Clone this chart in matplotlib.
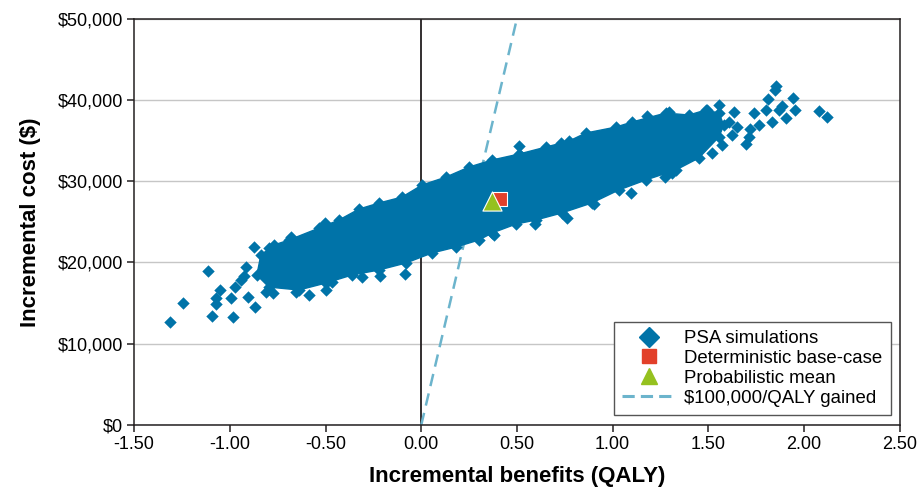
#scatter of PSA simulations on the cost-effectiveness plane

import matplotlib
matplotlib.use("Agg")
import matplotlib.pyplot as plt
from matplotlib.lines import Line2D
from matplotlib.ticker import FuncFormatter

plt.rcParams['font.family'] = ['Liberation Sans', 'DejaVu Sans']

# outline of the dense body of simulations
cloud_edge_x = [-0.838, -0.770, -0.691, -0.534, -0.430, -0.325, -0.221, -0.101, 0.004, 0.129,
                0.249, 0.370, 0.510, 0.651, 0.772, 0.860, 1.017, 1.101, 1.278, 1.398,
                1.487, 1.555, 1.581, 1.555, 1.450, 1.330, 1.173, 1.032, 0.891, 0.734,
                0.599, 0.495, 0.370, 0.301, 0.181, 0.056, -0.080, -0.221, -0.362, -0.498,
                -0.639, -0.796, -0.859]
cloud_edge_y = [20910, 22140, 22760, 24230, 25220, 26570, 27310, 28040, 29520, 30500,
                31730, 32600, 33330, 34190, 34930, 35920, 36650, 37270, 38380, 38130,
                38750, 38380, 36900, 35420, 32840, 31370, 30140, 28910, 27310, 26080,
                25220, 24720, 23620, 22760, 21890, 21160, 19930, 19070, 18450, 17470,
                16610, 16970, 18450]

# scattered simulations outside the dense body
psa_x = [-1.314, -1.246, -1.116, -1.095, -0.985, -1.073, -1.073, -1.052, -0.994, -0.916,
         -0.874, -0.869, -0.905, -0.926, -0.973, -0.942, -0.811, -0.775, -0.655, -0.587,
         -0.498, -0.310, -0.216, -0.085, -0.467, -0.362, -0.796, -0.681, -0.623, -0.503,
         1.853, 1.848, 1.942, 2.078, 2.120, 1.952, 1.811, 1.905, 1.885, 1.869,
         1.832, 1.801, 1.764, 1.738, 1.717, 1.696, 1.712, 1.633, 1.649, 1.623,
         1.571, 1.555, 1.608, 1.493, 1.179, 1.294, 0.510, 0.730, 1.096, 0.903,
         0.762, 0.594, 0.380, 1.310, 1.519, 1.273, 0.526]
psa_y = [12670, 15010, 18940, 13410, 13280, 15620, 14880, 16610, 15620, 19430,
         21890, 14510, 15740, 18330, 16970, 17840, 16360, 16240, 16360, 15990,
         16610, 18200, 18330, 18570, 17590, 18700, 21770, 23120, 22760, 24850,
         41700, 41200, 40220, 38620, 37880, 38740, 40100, 37760, 39240, 38740,
         37270, 38740, 36900, 38380, 36410, 34560, 35420, 38500, 36650, 35670,
         34440, 39360, 37270, 38740, 38010, 38500, 34320, 34690, 28540, 27180,
         25460, 24720, 23370, 31000, 33460, 30500, 32960]

base_case = (0.409, 27800)
prob_mean = (0.372, 27600)
wtp = 100000  # $/QALY
x_ticks = [-1.5, -1.0, -0.5, 0.0, 0.5, 1.0, 1.5, 2.0, 2.5]
y_ticks = [0, 10000, 20000, 30000, 40000, 50000]

blue = "#0073a8"
red = "#e2402a"
green = "#95c11f"
dash_blue = "#6cb4cc"
dark = "#231f20"

fig = plt.figure(figsize=(9.19, 4.88), dpi=100)
ax = fig.add_axes([0.146, 0.129, 0.833, 0.833])

ax.set_xlim(-1.5, 2.5)
ax.set_ylim(0, 50000)

ax.yaxis.grid(True, color="#c6c6c6", lw=1.0, zorder=0)
ax.set_axisbelow(True)

ax.axvline(0, color=dark, lw=1.3, zorder=1)
ax.plot([0, 50000 / wtp], [0, 50000], ls=(0, (5, 3)), color=dash_blue, lw=1.8, zorder=2)

ax.fill(cloud_edge_x, cloud_edge_y, color=blue, lw=1, zorder=3)
ax.scatter(cloud_edge_x, cloud_edge_y, marker="D", s=40, color=blue, lw=0, zorder=3)
ax.scatter(psa_x, psa_y, marker="D", s=40, color=blue, lw=0, zorder=3)

ax.scatter([base_case[0]], [base_case[1]], marker="s", s=110, color=red,
           edgecolors="white", lw=0.8, zorder=5)
ax.scatter([prob_mean[0]], [prob_mean[1]], marker="^", s=190, color=green,
           edgecolors="white", lw=0.8, zorder=6)

ax.set_xticks(x_ticks)
ax.set_yticks(y_ticks)
ax.xaxis.set_major_formatter(FuncFormatter(lambda v, p: "%.2f" % v))
ax.yaxis.set_major_formatter(FuncFormatter(lambda v, p: "${:,.0f}".format(v)))
ax.tick_params(direction="out", length=5, width=1.1, color=dark, labelsize=13, pad=3)
for s in ax.spines.values():
    s.set_color(dark)
    s.set_linewidth(1.1)

ax.set_xlabel("Incremental benefits (QALY)", fontsize=16, fontweight="bold", labelpad=9)
ax.set_ylabel("Incremental cost ($)", fontsize=16, fontweight="bold", labelpad=12)

handles = [
    Line2D([], [], marker="D", ls="none", color=blue, ms=10),
    Line2D([], [], marker="s", ls="none", color=red, ms=10),
    Line2D([], [], marker="^", ls="none", color=green, ms=12),
    Line2D([], [], ls=(0, (4, 2)), color=dash_blue, lw=2.2),
]
labels = ["PSA simulations", "Deterministic base-case", "Probabilistic mean", "$100,000/QALY gained"]
leg = ax.legend(handles, labels, loc="lower right", bbox_to_anchor=(0.988, 0.025),
                borderaxespad=0, fancybox=False, framealpha=1, fontsize=13.4,
                handlelength=2.9, handletextpad=0.4, labelspacing=0.15, borderpad=0.45)
leg.get_frame().set_edgecolor("#555555")
leg.get_frame().set_linewidth(1.0)

plt.savefig("out.png", dpi=100)
